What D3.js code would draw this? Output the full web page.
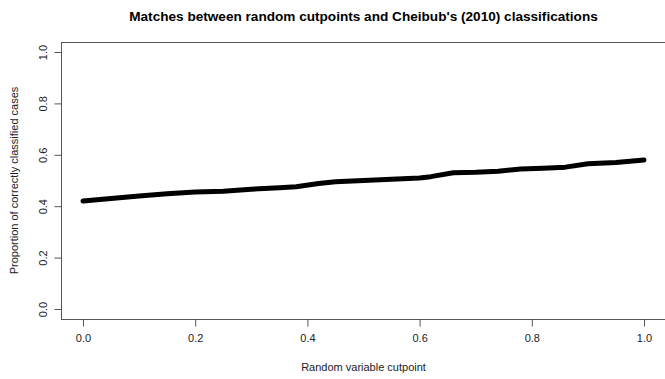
<!DOCTYPE html>
<html>
<head>
<meta charset="utf-8">
<script src="https://cdn.jsdelivr.net/npm/d3@7"></script>
<style>
  html, body { margin: 0; padding: 0; background: #fff; }
  svg { display: block; font-family: "Liberation Sans", Arial, sans-serif; }
</style>
</head>
<body>
<svg id="chart" width="665" height="379"></svg>
<script>
// Cutpoint values on the x axis
const cutpoints = [0.00, 0.05, 0.10, 0.15, 0.20, 0.25, 0.30, 0.35, 0.38, 0.42, 0.45,
  0.50, 0.55, 0.60, 0.62, 0.66, 0.70, 0.74, 0.78, 0.82, 0.86, 0.90, 0.95, 1.00];
// Proportion of correctly classified cases at each cutpoint
const proportions = [0.420, 0.430, 0.440, 0.448, 0.455, 0.458, 0.466, 0.472, 0.476, 0.488, 0.495,
  0.500, 0.505, 0.510, 0.515, 0.530, 0.532, 0.536, 0.545, 0.548, 0.552, 0.565, 0.570, 0.580];
const xTicks = [0, 0.2, 0.4, 0.6, 0.8, 1.0];
const yTicks = [0, 0.2, 0.4, 0.6, 0.8, 1.0];

const svg = d3.select("#chart");
const axisColor = "#555";

// Data-to-pixel scales (plot region extends 4% past the data range)
const x = d3.scaleLinear().domain([0, 1]).range([83, 644]);
const y = d3.scaleLinear().domain([0, 1]).range([309, 52]);
const pad = 0.04;
const boxLeft = x(-pad), boxRight = x(1 + pad), boxTop = y(1 + pad), boxBottom = y(-pad);

// Plot frame
svg.append("rect")
  .attr("x", Math.round(boxLeft) + 0.5).attr("y", Math.round(boxTop) + 0.5)
  .attr("width", boxRight - boxLeft).attr("height", Math.round(boxBottom) - Math.round(boxTop))
  .attr("fill", "none").attr("stroke", axisColor).attr("stroke-width", 1);

// Bottom axis
const xAxis = svg.append("g")
  .attr("transform", `translate(0,${Math.round(boxBottom) + 0.5})`)
  .call(d3.axisBottom(x).tickValues(xTicks).tickFormat(d3.format(".1f"))
    .tickSize(7).tickPadding(8));
xAxis.select(".domain").attr("stroke", axisColor).attr("d", `M${x(0)},0H${x(1)}`);
xAxis.selectAll(".tick line").attr("stroke", axisColor);
xAxis.selectAll(".tick text").attr("font-size", 11).attr("fill", "#222")
  .attr("font-family", "Liberation Sans, Arial, sans-serif");

// Left axis with rotated labels
const yAxis = svg.append("g")
  .attr("transform", `translate(${Math.round(boxLeft) + 0.5},0)`)
  .call(d3.axisLeft(y).tickValues(yTicks).tickFormat(d3.format(".1f")).tickSize(7));
yAxis.select(".domain").attr("stroke", axisColor).attr("d", `M0,${y(0)}V${y(1)}`);
yAxis.selectAll(".tick line").attr("stroke", axisColor);
yAxis.selectAll(".tick text")
  .attr("x", null).attr("dy", null)
  .attr("transform", "translate(-15,0) rotate(-90)")
  .attr("text-anchor", "middle")
  .attr("font-size", 11).attr("fill", "#222")
  .attr("font-family", "Liberation Sans, Arial, sans-serif");

// Series line
const points = cutpoints.map((c, i) => [c, proportions[i]]);
svg.append("path")
  .datum(points)
  .attr("fill", "none")
  .attr("stroke", "#000")
  .attr("stroke-width", 5)
  .attr("stroke-linecap", "round")
  .attr("stroke-linejoin", "round")
  .attr("d", d3.line().x(d => x(d[0])).y(d => y(d[1])));

// Titles
const cx = (boxLeft + boxRight) / 2;
svg.append("text")
  .attr("x", cx).attr("y", 21)
  .attr("text-anchor", "middle")
  .attr("font-size", 13.6).attr("font-weight", "bold").attr("fill", "#000")
  .text("Matches between random cutpoints and Cheibub's (2010) classifications");

svg.append("text")
  .attr("x", cx).attr("y", 371)
  .attr("text-anchor", "middle")
  .attr("font-size", 11).attr("fill", "#222")
  .text("Random variable cutpoint");

svg.append("text")
  .attr("transform", `translate(18,${(boxTop + boxBottom) / 2}) rotate(-90)`)
  .attr("text-anchor", "middle")
  .attr("font-size", 11).attr("fill", "#222")
  .text("Proportion of correctly classified cases");
</script>
</body>
</html>
